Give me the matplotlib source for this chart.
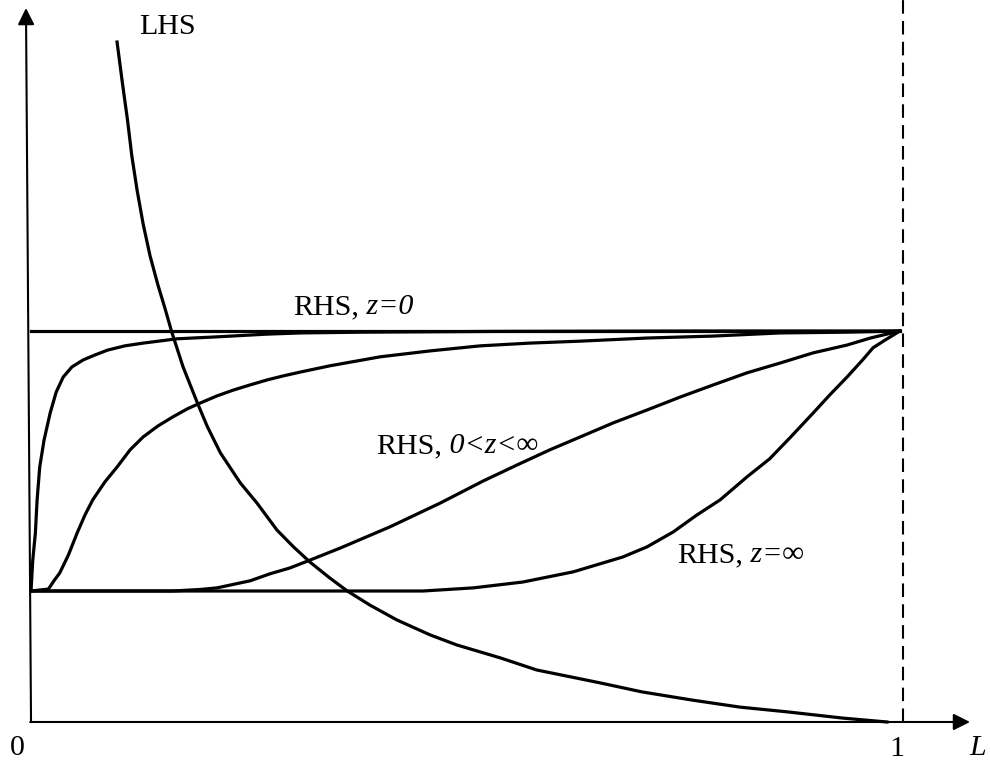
import matplotlib
matplotlib.use("Agg")
import matplotlib.pyplot as plt

plt.rcParams["font.family"] = ["Liberation Serif", "DejaVu Serif"]

# RHS level at z=0 is 1, every RHS curve starts at 1/3 for L=0
rhs_top = 1.0
rhs_low = 0.335

# RHS, z=0 side: fast riser
a_x = [0, 0.002, 0.005, 0.007, 0.010, 0.015, 0.022, 0.029, 0.037, 0.047,
       0.060, 0.074, 0.088, 0.108, 0.129, 0.168, 0.214, 0.272, 0.310, 0.382,
       0.540, 0.770, 1.0]
a_y = [0.335, 0.414, 0.483, 0.568, 0.652, 0.721, 0.790, 0.844, 0.882, 0.908,
       0.926, 0.939, 0.951, 0.962, 0.969, 0.980, 0.985, 0.992, 0.995, 0.997,
       0.999, 1.0, 1.0]

# second riser
b_x = [0, 0.020, 0.027, 0.033, 0.043, 0.053, 0.062, 0.071, 0.085, 0.099,
       0.114, 0.129, 0.146, 0.163, 0.180, 0.195, 0.214, 0.233, 0.252, 0.272,
       0.290, 0.310, 0.344, 0.402, 0.459, 0.517, 0.574, 0.632, 0.709, 0.785,
       0.862, 0.939, 1.0]
b_y = [0.335, 0.340, 0.363, 0.381, 0.427, 0.483, 0.529, 0.568, 0.614, 0.652,
       0.696, 0.729, 0.757, 0.780, 0.801, 0.816, 0.834, 0.849, 0.862, 0.875,
       0.885, 0.895, 0.911, 0.934, 0.949, 0.962, 0.969, 0.974, 0.982, 0.987,
       0.995, 0.997, 1.0]

# RHS, 0<z<inf
c_x = [0, 0.163, 0.195, 0.214, 0.252, 0.275, 0.298, 0.321, 0.356, 0.413,
       0.471, 0.520, 0.559, 0.597, 0.632, 0.670, 0.709, 0.747, 0.785, 0.824,
       0.862, 0.900, 0.939, 0.966, 1.0]
c_y = [0.335, 0.335, 0.339, 0.343, 0.361, 0.379, 0.394, 0.414, 0.445, 0.499,
       0.560, 0.616, 0.657, 0.696, 0.729, 0.765, 0.798, 0.831, 0.862, 0.893,
       0.918, 0.944, 0.964, 0.982, 1.0]

# RHS, z=inf
d_x = [0, 0.451, 0.509, 0.566, 0.624, 0.681, 0.709, 0.739, 0.766, 0.793,
       0.824, 0.850, 0.873, 0.900, 0.919, 0.939, 0.957, 0.969, 0.983, 1.0]
d_y = [0.335, 0.335, 0.343, 0.358, 0.384, 0.422, 0.448, 0.486, 0.529, 0.568,
       0.627, 0.673, 0.726, 0.790, 0.836, 0.882, 0.926, 0.957, 0.977, 1.0]

# LHS, falling curve
lhs_x = [0.099, 0.105, 0.111, 0.116, 0.122, 0.129, 0.137, 0.146, 0.154, 0.162,
         0.175, 0.192, 0.203, 0.218, 0.241, 0.260, 0.283, 0.302, 0.321, 0.344,
         0.364, 0.390, 0.421, 0.459, 0.490, 0.540, 0.582, 0.655, 0.703, 0.761,
         0.816, 0.870, 0.934, 0.985]
lhs_y = [1.739, 1.637, 1.540, 1.448, 1.361, 1.274, 1.192, 1.118, 1.059, 0.997,
         0.908, 0.813, 0.755, 0.688, 0.611, 0.560, 0.491, 0.448, 0.409, 0.368,
         0.335, 0.299, 0.261, 0.223, 0.197, 0.164, 0.133, 0.100, 0.077, 0.056,
         0.038, 0.026, 0.010, 0.0]

fig = plt.figure(figsize=(9.9, 7.67), dpi=100)
ax = fig.add_axes([0, 0, 1, 1])
ax.set_xlim(-0.0357, 1.1036)
ax.set_ylim(-0.1151, 1.8465)
ax.axis("off")

lw = 2.3
ax.plot([0, 1.0], [rhs_top, rhs_top], color="black", lw=lw)
ax.plot(a_x, a_y, color="black", lw=lw)
ax.plot(b_x, b_y, color="black", lw=lw)
ax.plot(c_x, c_y, color="black", lw=lw)
ax.plot(d_x, d_y, color="black", lw=lw)
ax.plot(lhs_x, lhs_y, color="black", lw=lw)

# dashed line at L=1
ax.plot([1.003, 1.003], [0, 1.8465], color="black", lw=1.5,
        ls=(0, (6.5, 3.5)))

# axes with arrow heads
arrow = dict(arrowstyle="-|>,head_length=1.0,head_width=0.5", lw=1.5,
             color="black", mutation_scale=10, shrinkA=0, shrinkB=0)
ax.annotate("", xy=(1.0806, 0), xytext=(-0.001, 0), arrowprops=arrow)
ax.annotate("", xy=(-0.0058, 1.826), xytext=(0, 0), arrowprops=arrow)

fs = 21.6


def label(x, y, plain, italic):
    # upright "RHS," followed by the italic condition
    t = ax.text(x, y, plain, fontsize=fs, ha="left", va="center")
    ax.annotate(italic, xy=(1, 0), xycoords=t, fontsize=fs, ha="left",
                va="bottom", style="italic")


ax.text(0.1565, 1.7775, "LHS", fontsize=fs, ha="center", va="center")
label(0.3015, 1.0614, "RHS,", " z=0")
label(0.397, 0.705, "RHS,", " 0<z<\u221e")
label(0.744, 0.427, "RHS,", " z=\u221e")

ax.text(-0.0161, -0.0665, "0", fontsize=fs, ha="center", va="center")
ax.text(0.9965, -0.069, "1", fontsize=fs, ha="center", va="center")
ax.text(1.0898, -0.0665, "L", fontsize=fs, ha="center", va="center",
        style="italic")

fig.savefig("out.png", dpi=100)
